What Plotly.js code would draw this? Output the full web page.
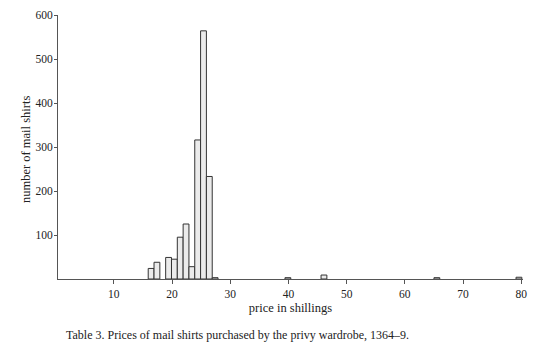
<!DOCTYPE html>
<html>
<head>
<meta charset="utf-8">
<script src="https://cdn.plot.ly/plotly-3.0.1.min.js"></script>
<style>html,body{margin:0;padding:0;background:#fff;}#chart{width:539px;height:360px;}</style>
</head>
<body>
<div id="chart"></div>
<script>
// price bins (bar centres, shillings) and number of mail shirts
const prices = [16.4, 17.4, 19.4, 20.4, 21.4, 22.4, 23.4, 24.4, 25.4, 26.4, 27.4, 39.9, 46.1, 65.5, 79.6];
const counts = [24, 38, 49, 45, 95, 125, 28, 316, 564, 233, 3, 3, 9, 3, 4];
const xTicks = [10, 20, 30, 40, 50, 60, 70, 80];
const yTicks = [100, 200, 300, 400, 500, 600];
const xTitle = "price in shillings";
const yTitle = "number of mail shirts";
const caption = "Table 3. Prices of mail shirts purchased by the privy wardrobe, 1364–9.";

const serif = "Liberation Serif, Times New Roman, serif";

Plotly.newPlot("chart", [{
  type: "bar",
  x: prices,
  y: counts,
  width: prices.map(() => 1),
  marker: {color: "#ebebeb", line: {color: "#333333", width: 1}},
  hoverinfo: "x+y"
}], {
  width: 539, height: 360,
  margin: {l: 58, r: 16, t: 15, b: 81},
  paper_bgcolor: "#ffffff",
  plot_bgcolor: "#ffffff",
  showlegend: false,
  xaxis: {
    range: [0.4, 80.3],
    tickvals: xTicks,
    ticks: "outside", ticklen: 4, tickcolor: "#555",
    showline: true, linecolor: "#555", linewidth: 1,
    showgrid: false, zeroline: false,
    tickfont: {family: serif, size: 11.5, color: "#222"},
    title: {text: xTitle, font: {family: serif, size: 12.5, color: "#222"}, standoff: 4}
  },
  yaxis: {
    range: [0, 600],
    tickvals: yTicks,
    ticks: "outside", ticklen: 3, tickcolor: "#555",
    ticklabelstandoff: -1,
    showline: true, linecolor: "#555", linewidth: 1,
    showgrid: false, zeroline: false,
    tickfont: {family: serif, size: 11.5, color: "#222"}
  },
  annotations: [{
    text: yTitle,
    xref: "paper", yref: "paper",
    x: (26 - 58) / 465, y: (279 - 150) / 264,
    xanchor: "center", yanchor: "middle",
    textangle: -90,
    showarrow: false,
    font: {family: serif, size: 12.5, color: "#222"}
  }, {
    text: caption,
    xref: "paper", yref: "paper",
    x: (64 - 58) / 465, y: -(335 - 279) / 264,
    xanchor: "left", yanchor: "middle",
    showarrow: false,
    font: {family: serif, size: 12, color: "#222"}
  }]
}, {displayModeBar: false, staticPlot: true});
</script>
</body>
</html>
